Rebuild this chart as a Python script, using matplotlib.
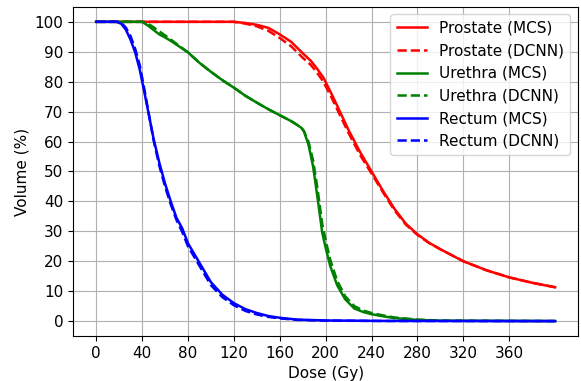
import numpy as np
import matplotlib.pyplot as plt

# prostate
prostate_dose = [0, 120, 130, 140, 150, 160, 170, 180, 187, 192, 198, 205, 210, 220, 230,
                 240, 250, 260, 270, 280, 290, 300, 320, 340, 360, 380, 400]
prostate_mcs = [100, 100, 99.6, 99.0, 98.0, 95.8, 93.3, 89.5, 87.0, 84.6, 81.4, 76.0, 72.0,
                63.8, 56.5, 50.0, 43.5, 37.5, 32.5, 29.0, 26.2, 24.0, 20.0, 17.0, 14.6, 12.8, 11.3]
prostate_dcnn = [100, 100, 99.4, 98.5, 97.0, 94.6, 91.8, 88.0, 85.6, 83.3, 80.0, 74.8, 70.8,
                 62.8, 55.5, 49.3, 43.0, 37.0, 32.2, 28.8, 26.1, 24.0, 20.0, 17.0, 14.6, 12.8, 11.3]

# urethra
urethra_dose = [0, 40, 45, 50, 55, 60, 66, 80, 90, 100, 110, 120, 130, 140, 150, 160, 170,
                175, 179, 181, 185, 189, 193, 197, 200, 204, 210, 217, 225, 233, 240,
                250, 260, 280, 300, 400]
urethra_mcs = [100, 100, 98.8, 97.3, 95.8, 94.8, 93.4, 89.8, 86.3, 83.3, 80.5, 78.0, 75.3,
               73.0, 70.8, 68.8, 66.8, 65.6, 64.5, 63.5, 59.0, 51.8, 41.0, 29.6, 24.5, 18.4,
               12.0, 7.3, 4.2, 3.0, 2.3, 1.6, 1.0, 0.4, 0.1, 0]
urethra_dcnn = [100, 100, 99.4, 98.2, 96.8, 95.5, 93.8, 89.8, 86.3, 83.3, 80.5, 78.0, 75.3,
                73.0, 70.8, 68.8, 66.8, 65.6, 64.5, 63.5, 60.0, 53.8, 44.0, 32.5, 27.0, 20.5,
                13.5, 8.3, 5.0, 3.5, 2.7, 1.9, 1.2, 0.5, 0.15, 0]

# rectum
rectum_dose = [0, 18, 22, 26, 30, 34, 38, 42, 46, 50, 55, 60, 65, 70, 75, 80, 90, 100, 110,
               120, 130, 140, 150, 160, 175, 200, 250, 400]
rectum_mcs = [100, 100, 99.3, 97.3, 94.0, 89.8, 84.0, 76.5, 68.8, 61.0, 53.0, 46.0, 40.0,
              34.5, 31.0, 26.0, 19.5, 13.0, 8.8, 6.0, 4.0, 2.7, 1.7, 1.1, 0.5, 0.2, 0.05, 0]
rectum_dcnn = [100, 100, 99.6, 98.0, 95.2, 91.0, 85.5, 77.5, 69.0, 60.5, 52.0, 45.0, 39.0,
               33.8, 29.8, 25.0, 18.5, 12.0, 8.0, 5.3, 3.4, 2.2, 1.4, 0.9, 0.4, 0.15, 0.03, 0]

plt.rcParams['font.size'] = 11

plt.figure(figsize=(5.81, 3.81), dpi=100)
plt.subplots_adjust(left=0.126, right=0.995, bottom=0.118, top=0.982)

lw = 1.8
plt.plot(prostate_dose, prostate_mcs, 'r-', lw=lw, label="Prostate (MCS)")
plt.plot(prostate_dose, prostate_dcnn, 'r--', lw=lw, label="Prostate (DCNN)")
plt.plot(urethra_dose, urethra_mcs, 'g-', lw=lw, label="Urethra (MCS)")
plt.plot(urethra_dose, urethra_dcnn, 'g--', lw=lw, label="Urethra (DCNN)")
plt.plot(rectum_dose, rectum_mcs, 'b-', lw=lw, label="Rectum (MCS)")
plt.plot(rectum_dose, rectum_dcnn, 'b--', lw=lw, label="Rectum (DCNN)")

plt.xticks(np.arange(0, 400, 40))
plt.yticks(np.arange(0, 101, 10))
plt.xlabel("Dose (Gy)")
plt.ylabel("Volume (%)")
plt.grid(True)
plt.legend(loc="upper right")

plt.savefig("out.png")
